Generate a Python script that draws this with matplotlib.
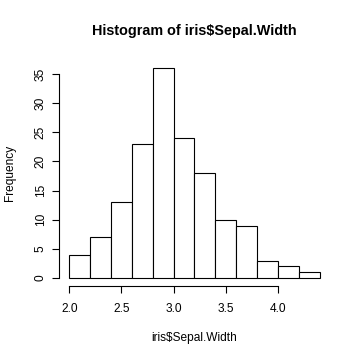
import matplotlib.pyplot as plt
import numpy as np

plt.rcParams['font.family'] = ['Liberation Sans', 'DejaVu Sans']

# bin edges and counts of iris$Sepal.Width (R hist defaults)
bin_edges = [2.0, 2.2, 2.4, 2.6, 2.8, 3.0, 3.2, 3.4, 3.6, 3.8, 4.0, 4.2, 4.4]
counts = [4, 7, 13, 23, 36, 24, 18, 10, 9, 3, 2, 1]
x_ticks = [2.0, 2.5, 3.0, 3.5, 4.0]
y_ticks = [0, 5, 10, 15, 20, 25, 30, 35]

fig = plt.figure(figsize=(3.6, 3.6), dpi=100)
ax = fig.add_axes([0.1647, 0.2044, 0.751, 0.6297])

edges = np.array(bin_edges)
ax.bar(edges[:-1], counts, width=np.diff(edges), align='edge',
       facecolor='white', edgecolor='black', linewidth=0.8)

# R's 4% axis extension
xr = edges[-1] - edges[0]
ax.set_xlim(edges[0] - 0.04 * xr, edges[-1] + 0.04 * xr)
ax.set_ylim(-0.04 * max(counts), max(counts) * 1.04)

for s in ['top', 'right']:
    ax.spines[s].set_visible(False)
ax.spines['left'].set_bounds(y_ticks[0], y_ticks[-1])
ax.spines['bottom'].set_bounds(x_ticks[0], x_ticks[-1])
for s in ['left', 'bottom']:
    ax.spines[s].set_linewidth(0.8)

ax.set_xticks(x_ticks)
ax.set_xticklabels(['{:.1f}'.format(v) for v in x_ticks])
ax.set_yticks(y_ticks)
ax.set_yticklabels([str(v) for v in y_ticks], rotation=90, va='center')
ax.tick_params(length=5, width=0.8, labelsize=8.6)
ax.tick_params(axis='x', pad=7)
ax.tick_params(axis='y', pad=4)

ax.set_title('Histogram of iris$Sepal.Width', fontsize=10.4,
             fontweight='bold', pad=17.5)
ax.set_xlabel('iris$Sepal.Width', fontsize=8.6, labelpad=12.5)
ax.set_ylabel('Frequency', fontsize=8.6, labelpad=13.5)

fig.savefig('out.png', dpi=100)
